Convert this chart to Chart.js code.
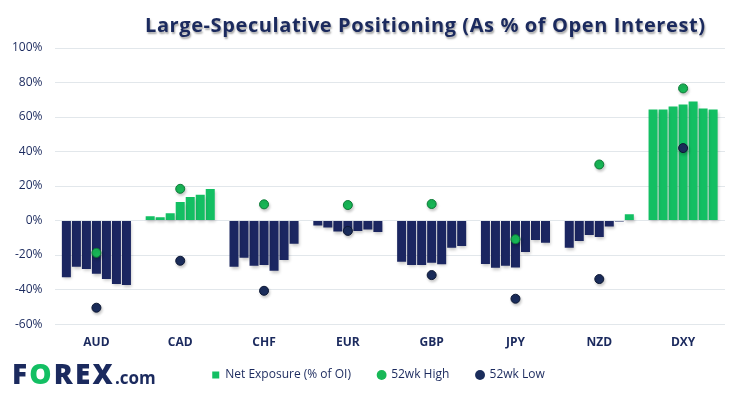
<!DOCTYPE html>
<html>
<head>
<meta charset="utf-8">
<script src="https://cdn.jsdelivr.net/npm/chart.js@4/dist/chart.umd.min.js"></script>
<style>
    html, body { margin: 0; padding: 0; background: #ffffff; }
    #wrap { position: relative; width: 749px; height: 398px; overflow: hidden; }
    #chart { position: absolute; left: 0; top: 0; }
    #title {
        position: absolute; left: 145px; top: 11px; width: 570px;
        font-family: "Open Sans", sans-serif; font-weight: bold; font-size: 20px;
        letter-spacing: 0.6px; color: #1b2a5e; white-space: nowrap;
        text-shadow: 1px 2px 2px rgba(0, 0, 0, 0.35);
    }
    #logo {
        position: absolute; left: 12px; top: 354px;
        font-family: "Open Sans", sans-serif; font-weight: 800; color: #1b2a5e;
        white-space: nowrap;
    }
    #logo .big { font-size: 28px; letter-spacing: 2.2px; }
    #logo .o { color: #13bf63; }
    #logo .com { font-size: 17px; font-weight: bold; }
</style>
</head>
<body>
<div id="wrap">
    <canvas id="chart" width="749" height="398"></canvas>
    <div id="title">Large-Speculative Positioning (As % of Open Interest)</div>
    <div id="logo"><span class="big">F<span class="o">O</span>REX</span><span class="com">.com</span></div>
</div>
<script>
(function () {
    "use strict";

    // Colors
    const navy = '#1b2661';
    const green = '#13bf63';
    const text_navy = '#1b2a5e';
    const grid_gray = '#e2e7eb';

    // Data (net exposure, % of open interest, last 7 weeks per currency)
    const currencies = ['AUD', 'CAD', 'CHF', 'EUR', 'GBP', 'JPY', 'NZD', 'DXY'];
    const audNet = [-32.8, -26.8, -28.1, -30.8, -33.9, -36.8, -37.3];
    const cadNet = [2.5, 1.9, 4.2, 10.7, 13.6, 15.0, 18.3];
    const chfNet = [-26.8, -21.6, -26.2, -25.8, -29.1, -22.9, -13.5];
    const eurNet = [-2.9, -4.0, -6.4, -6.8, -6.0, -5.2, -6.6];
    const gbpNet = [-23.9, -25.8, -25.8, -24.5, -25.3, -15.8, -14.7];
    const jpyNet = [-25.1, -27.4, -26.2, -27.2, -18.2, -11.2, -12.9];
    const nzdNet = [-15.8, -11.8, -8.3, -9.5, -3.5, -0.6, 3.6];
    const dxyNet = [64.3, 64.3, 66.1, 67.2, 69.0, 64.9, 64.3];
    const high52 = [-18.7, 18.4, 9.4, 9.0, 9.6, -10.8, 32.5, 76.6];
    const low52 = [-50.5, -23.3, -40.7, -6.0, -31.6, -45.3, -33.9, 42.0];
    const yTicks = [-60, -40, -20, 0, 20, 40, 60, 80, 100];

    const netSeries = [audNet, cadNet, chfNet, eurNet, gbpNet, jpyNet, nzdNet, dxyNet];

    // One bar dataset per week, values across currencies
    const weekDatasets = [];
    for (let w = 0; w < 7; w++) {
        weekDatasets.push({
            type: 'bar',
            label: 'Net Exposure (% of OI)',
            data: netSeries.map(s => s[w]),
            backgroundColor: (c) => (c.raw < 0 ? navy : green),
            borderWidth: 0,
            barPercentage: 0.9,
            categoryPercentage: 0.836,
            order: 1
        });
    }

    // soft drop shadow under marks
    const shadowPlugin = {
        id: 'shadow',
        beforeDatasetDraw(chart) {
            const ctx = chart.ctx;
            ctx.save();
            ctx.shadowColor = 'rgba(0,0,0,0.22)';
            ctx.shadowBlur = 3;
            ctx.shadowOffsetX = 1;
            ctx.shadowOffsetY = 2;
        },
        afterDatasetDraw(chart) {
            chart.ctx.restore();
        }
    };

    // nudge the legend row so it sits like the original
    const legendShift = {
        id: 'legendShift',
        afterLayout(chart) {
            chart.legend.left += 16;
            chart.legend.right += 16;
        }
    };

    const ctb = document.getElementById('chart').getContext('2d');
    const myChart = new Chart(ctb, {
        data: {
            labels: currencies,
            datasets: weekDatasets.concat([
                {
                    type: 'line',
                    label: '52wk High',
                    data: high52,
                    showLine: false,
                    pointRadius: 4.5,
                    pointBackgroundColor: '#18b857',
                    pointBorderColor: '#0c7a36',
                    pointBorderWidth: 1,
                    backgroundColor: '#18b857',
                    borderColor: '#0c7a36',
                    pointStyle: 'circle',
                    order: 0
                },
                {
                    type: 'line',
                    label: '52wk Low',
                    data: low52,
                    showLine: false,
                    pointRadius: 4.5,
                    pointBackgroundColor: '#1b2d5c',
                    pointBorderColor: '#0d1834',
                    pointBorderWidth: 1,
                    backgroundColor: '#1b2d5c',
                    borderColor: '#0d1834',
                    pointStyle: 'circle',
                    order: 0
                }
            ])
        },
        options: {
            responsive: false,
            animation: false,
            layout: {
                padding: { left: 0, right: 24, top: 48, bottom: 7 }
            },
            scales: {
                x: {
                    grid: { display: false, drawTicks: false },
                    border: { display: false },
                    ticks: {
                        color: text_navy,
                        padding: 11,
                        font: { family: 'Open Sans', size: 12, weight: 'bold' }
                    }
                },
                y: {
                    min: -60,
                    max: 100,
                    afterBuildTicks: (axis) => { axis.ticks = yTicks.map(v => ({ value: v })); },
                    grid: { color: grid_gray, lineWidth: 1, drawTicks: false },
                    border: { display: false },
                    ticks: {
                        color: text_navy,
                        padding: 12,
                        font: { family: 'Open Sans', size: 12 },
                        callback: (value) => value + '%'
                    }
                }
            },
            plugins: {
                legend: {
                    display: true,
                    position: 'bottom',
                    labels: {
                        color: text_navy,
                        font: { family: 'Open Sans', size: 12 },
                        usePointStyle: true,
                        boxWidth: 7,
                        boxHeight: 7,
                        padding: 8.5,
                        filter: (item) => item.datasetIndex === 0 || item.datasetIndex >= 7,
                        sort: (a, b) => a.datasetIndex - b.datasetIndex,
                        generateLabels: (chart) => {
                            const items = Chart.defaults.plugins.legend.labels.generateLabels(chart);
                            items.forEach(item => {
                                if (item.datasetIndex < 7) {
                                    item.fillStyle = green;
                                    item.strokeStyle = green;
                                    item.pointStyle = 'rect';
                                }
                                // extra room between legend entries
                                if (item.datasetIndex !== 8) item.text = item.text + '      ';
                                item.lineWidth = 0;
                            });
                            return items;
                        }
                    }
                },
                tooltip: { enabled: false }
            }
        },
        plugins: [shadowPlugin, legendShift]
    });
})();
</script>
</body>
</html>
